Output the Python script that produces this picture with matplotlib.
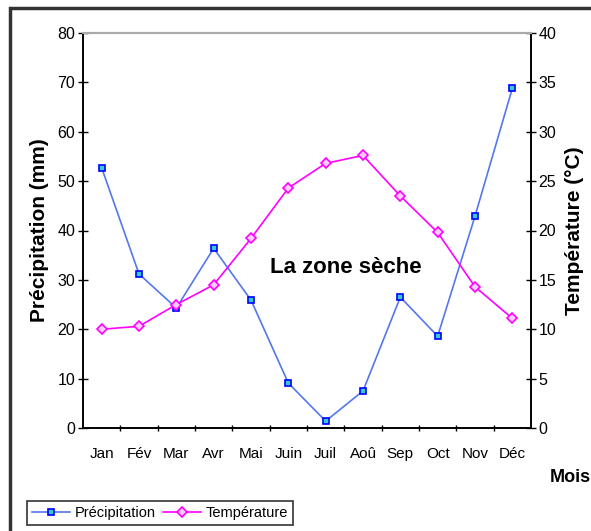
import matplotlib.pyplot as plt
from matplotlib.patches import Rectangle

mois = ['Jan', 'Fév', 'Mar', 'Avr', 'Mai', 'Juin', 'Juil', 'Aoû', 'Sep', 'Oct', 'Nov', 'Déc']
precip = [52.7, 31.2, 24.3, 36.4, 25.9, 9.1, 1.4, 7.5, 26.5, 18.6, 42.9, 68.8]
temp = [10.0, 10.3, 12.5, 14.5, 19.2, 24.3, 26.8, 27.6, 23.5, 19.8, 14.3, 11.1]

plt.rcParams['font.family'] = ['Liberation Sans', 'DejaVu Sans']

fig = plt.figure(figsize=(5.91, 5.31), dpi=100)
ax = fig.add_axes([83 / 591, 1 - 428 / 531, 448 / 591, 395 / 531])
ax2 = ax.twinx()

x = list(range(len(mois)))
l1, = ax.plot(x, precip, color='#5577ee', lw=1.2, marker='s', ms=5,
              mfc='#33cccc', mec='#0000ff', mew=1.2, label='Précipitation')
l2, = ax2.plot(x, temp, color='#ff00ff', lw=1.2, marker='D', ms=5,
               mfc='#ffccff', mec='#ff00ff', mew=1.2, label='Température')

ax.set_xlim(-0.5, 11.5)
ax.set_ylim(0, 80)
ax2.set_ylim(0, 40)
ax.set_yticks(range(0, 81, 10))
ax2.set_yticks(range(0, 41, 5))
ax.set_xticks(x)
ax.set_xticklabels(mois, fontsize=11)
ax.set_xticks([i + 0.5 for i in range(11)], minor=True)
ax.tick_params(axis='x', which='major', length=0, pad=14)
ax.tick_params(axis='x', which='minor', length=5, direction='inout', width=1)
ax.tick_params(axis='y', length=7, direction='inout', width=1, labelsize=11.5, pad=2)
ax2.tick_params(axis='y', length=7, direction='inout', width=1, labelsize=11.5, pad=2)

for a in (ax, ax2):
    a.spines['top'].set_color('#aaaaaa')
    a.spines['top'].set_linewidth(1.5)
    a.spines['left'].set_linewidth(1.2)
    a.spines['right'].set_linewidth(1.2)
    a.spines['bottom'].set_linewidth(1.2)

ax.set_ylabel('Précipitation (mm)', fontsize=15, fontweight='bold', labelpad=6)
ax2.set_ylabel('Température (°C)', fontsize=15, fontweight='bold', labelpad=6)
fig.text(570 / 591, 1 - 477 / 531, 'Mois', fontsize=13, fontweight='bold',
         ha='center', va='center')
ax.text(6.55, 32.5, 'La zone sèche', fontsize=16, fontweight='bold',
        ha='center', va='center')

leg = fig.legend([l1, l2], ['Précipitation', 'Température'], loc='center',
                 bbox_to_anchor=(160 / 591, 1 - 513 / 531), ncol=2, fontsize=10.5,
                 frameon=True, fancybox=False, edgecolor='black', handlelength=2.6,
                 handletextpad=0.3, columnspacing=0.5, borderpad=0.35)
leg.get_frame().set_linewidth(1.2)

fig.patches.append(Rectangle((10 / 591, -0.05), 1.0, 1 - 8 / 531 + 0.05,
                             transform=fig.transFigure, fill=False,
                             edgecolor='#333333', lw=2.5))

fig.savefig('out.png', dpi=100)
